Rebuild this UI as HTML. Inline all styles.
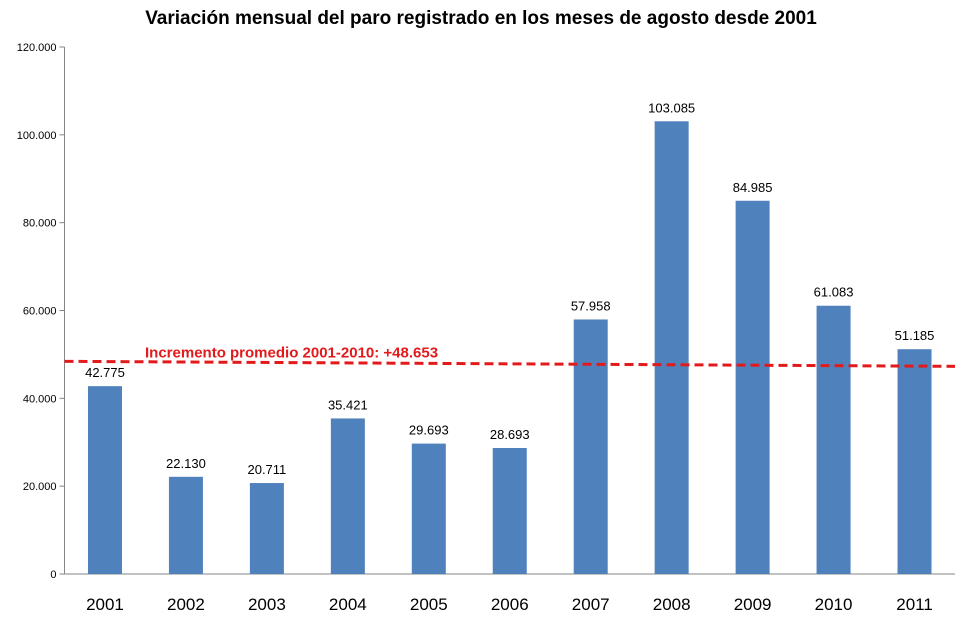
<!DOCTYPE html>
<html><head><meta charset="utf-8"><style>
body{margin:0;background:#fff;font-family:"Liberation Sans",sans-serif;}
</style></head><body>
<svg id="c" width="963" height="621" xmlns="http://www.w3.org/2000/svg">
<text x="481" y="24" text-anchor="middle" font-size="19" font-weight="bold" font-family="Liberation Sans, sans-serif">Variación mensual del paro registrado en los meses de agosto desde 2001</text>
<g id="g"></g>
</svg>
<script>
const categories=["2001","2002","2003","2004","2005","2006","2007","2008","2009","2010","2011"];
const values=[42775,22130,20711,35421,29693,28693,57958,103085,84985,61083,51185];
const valueLabels=["42.775","22.130","20.711","35.421","29.693","28.693","57.958","103.085","84.985","61.083","51.185"];
const yTicks=[0,20000,40000,60000,80000,100000,120000];
const yTickLabels=["0","20.000","40.000","60.000","80.000","100.000","120.000"];
const avgValue=48653;
const avgLabel="Incremento promedio 2001-2010: +48.653";
const NS="http://www.w3.org/2000/svg";
const g=document.getElementById('g');
const L=64.5,R=955,T=47,B=574,yMax=120000;
const step=(R-L)/categories.length;
const y=v=>B-(v/yMax)*(B-T);
const x=i=>L+step*(i+0.5);
function mk(t,a){const e=document.createElementNS(NS,t);for(const k in a)e.setAttribute(k,a[k]);g.appendChild(e);return e;}
let e=mk('line',{x1:L,y1:T,x2:L,y2:B,stroke:'#868686'});


e=mk('line',{x1:L,y1:B,x2:R,y2:B,stroke:'#868686'});


yTicks.forEach((v,i)=>{
  let t=mk('line',{x1:L-5,y1:y(v),x2:L,y2:y(v),stroke:'#868686'});
  
  
  let l=mk('text',{x:L-8,y:y(v)+4,'text-anchor':'end','font-size':'11'});
  l.textContent=yTickLabels[i];
  
  
});
categories.forEach((c,i)=>{
  let b=mk('rect',{x:x(i)-17,y:y(values[i]),width:34,height:B-y(values[i]),fill:'#4f81bd'});
  
  
  let v=mk('text',{x:x(i),y:y(values[i])-9,'text-anchor':'middle','font-size':'13'});
  v.textContent=valueLabels[i];
  
  
  let l=mk('text',{x:x(i),y:B+36,'text-anchor':'middle','font-size':'17'});
  l.textContent=c;
  
  
});
e=mk('line',{x1:L,y1:y(avgValue)+1,x2:R,y2:y(avgValue)+6,stroke:'#e31a1c','stroke-width':3,'stroke-dasharray':'9,5'});


e=mk('text',{x:145,y:y(avgValue)-3,'font-size':'15','font-weight':'bold',fill:'#e31a1c'});
e.textContent=avgLabel;


</script>
</body></html>
